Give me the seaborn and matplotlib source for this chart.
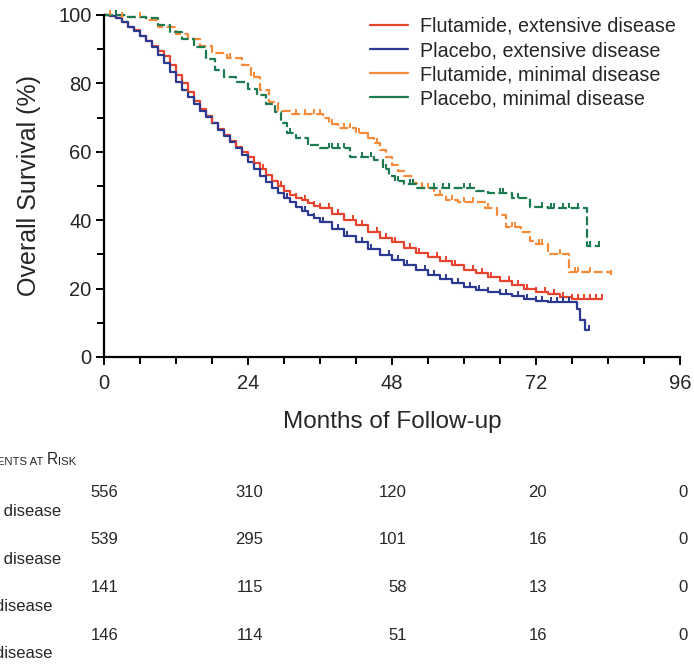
import numpy as np
import pandas as pd
import matplotlib
matplotlib.use("Agg")
import matplotlib.pyplot as plt
import matplotlib.transforms as mtransforms
from matplotlib.lines import Line2D
from matplotlib.ticker import MultipleLocator
import seaborn as sns

# Kaplan-Meier curves (month, survival %)
red_t = [0, 1, 2, 3, 4, 5, 6, 7, 8, 9, 10, 11, 12, 13, 14, 15, 16, 17, 18, 19, 20, 21, 22, 23, 24,
         25, 26, 27, 28, 29, 30, 31, 32, 33, 34, 35, 36, 38, 40, 42, 44, 46, 48,
         50, 52, 54, 56, 58, 60, 62, 64, 66, 68, 70, 72, 74, 76, 78, 83]
red_s = [100, 99.7, 99, 98, 96.5, 95.5, 94, 92.5, 91, 89.5, 88, 85.5, 82.5, 80, 77.5, 75, 72.5, 70.5,
         68.5, 66.8, 65, 63.2, 61.5, 60, 58.5, 56.8, 55, 53.2, 51.5, 50, 48.5, 47.5, 46.5, 45.8, 45,
         44.2, 43.5, 41.8, 40, 38.5, 36.5, 34.8, 33.5, 32, 30.5, 29.2, 28, 26.8, 25.5, 24.5, 23.5, 22.2,
         21, 20, 19, 18.3, 17.5, 17, 17]

blue_t = [0, 1, 2, 3, 4, 5, 6, 7, 8, 9, 10, 11, 12, 13, 14, 15, 16, 17, 18, 19, 20, 21, 22, 23, 24,
          25, 26, 27, 28, 29, 30, 31, 32, 33, 34, 35, 36, 38, 40, 42, 44, 46, 48,
          50, 52, 54, 56, 58, 60, 62, 64, 66, 68, 70, 72, 74, 78.8, 79.4, 80.2, 80.8]
blue_s = [100, 99.7, 99, 98, 96.5, 95.3, 94, 92.3, 90.5, 88.3, 86, 83.3, 80.5, 78.2, 76, 74, 72, 70.3,
          68.5, 66.5, 64.5, 62.8, 61, 59, 57, 55, 53, 51.2, 49.5, 48, 46.5, 45.2, 44, 42.7, 41.5, 40.5,
          39.5, 37.5, 35.5, 33.5, 31.5, 29.8, 28.3, 27, 25.5, 24, 22.8, 21.5, 20.5, 19.5, 19, 18.3,
          17.8, 17, 16.3, 16.1, 14, 10.8, 8, 8]

orange_t = [0, 3, 7, 9, 12, 14, 16, 18, 20.5, 23, 24.5, 26, 27.5, 29, 31, 36.5, 37.5, 39, 42, 44, 45, 46,
            47, 48, 49, 50, 51.5, 53, 55, 57, 59, 63.5, 65.5, 67, 69.5, 71, 72, 74, 77.5, 84.5]
orange_s = [100, 99.5, 98.5, 96.5, 94.5, 93, 91, 89, 87.5, 85.5, 82, 78, 74.5, 72, 71, 70, 68, 67, 65.5,
            64, 62.5, 60.5, 58.5, 56, 54.5, 53, 51, 49.5, 47.5, 46, 45.3, 43.5, 41.5, 38, 36.5, 34, 33,
            30, 25, 24]

green_t = [0, 4, 7, 9, 11, 13, 15, 17, 18.5, 20, 22, 24, 25.5, 27, 28.5, 29.5, 30.5, 32, 34, 36, 41, 45,
           46.5, 47.5, 48.5, 50, 52, 58, 62, 64, 68, 71, 74, 80.5, 82.7]
green_s = [100, 99.5, 99, 97, 95, 93, 90.5, 87, 84, 82, 80.5, 78.5, 76.5, 74, 71.5, 68.5, 65.5, 64, 62,
           61, 58.5, 57.5, 55, 53, 51.5, 50.5, 49.5, 49.3, 48.5, 48, 46.5, 44, 43.5, 32.5, 32.5]

# censored observations (months)
red_cens = [14, 18, 22, 25, 26.5, 28, 29.5, 31, 32, 33.5, 35, 36, 37.5, 39, 40, 41.5, 43, 44, 45.5, 47,
            48.5, 50, 51, 52.5, 54, 55.5, 57, 58.5, 60, 61.5, 63, 64.5, 66, 67.5, 69, 70.5, 72, 73.5,
            75, 76.5, 78, 79, 80, 81, 82, 83]
blue_cens = [20, 24, 27, 29, 30.5, 32, 33.5, 35, 36.5, 38, 39, 40.5, 42, 43, 44.5, 46, 47.5, 49, 50.5,
             52, 53.5, 55, 57, 59, 61, 62.5, 64, 66, 67, 69, 70.5, 72, 73, 74.5, 75.5, 76.5, 77.5, 80.8]
orange_cens = [1, 3, 6, 21, 25, 32, 33.5, 35, 36, 38, 40, 41, 42.5, 44, 45.5, 54, 56, 58, 60, 61.5, 64,
               68, 68.5, 72.5, 73, 76, 78.5, 79, 81, 84.5]
green_cens = [2, 31, 34, 37.5, 38, 39, 40, 43, 44.5, 47, 49, 51, 51.5, 55, 56.5, 57.5, 60, 61, 66, 66.5,
              69, 73, 74.5, 75, 76.5, 77.5, 79, 81, 82.5]

groups = ["Flutamide, extensive disease", "Placebo, extensive disease",
          "Flutamide, minimal disease", "Placebo, minimal disease"]
colors = ["#E8432E", "#2B3990", "#F58A3A", "#1B7A50"]

# patients at risk
risk_months = [0, 24, 48, 72, 96]
risk_labels = ["Flutamide, extensive disease", "Placebo, extensive disease",
               "Flutamide, minimal disease", "Placebo, minimal disease"]
risk_counts = [[556, 310, 120, 20, 0],
               [539, 295, 101, 16, 0],
               [141, 115, 58, 13, 0],
               [146, 114, 51, 16, 0]]

curves = [(red_t, red_s, red_cens), (blue_t, blue_s, blue_cens),
          (orange_t, orange_s, orange_cens), (green_t, green_s, green_cens)]

frames = []
for name, (t, s, _) in zip(groups, curves):
    frames.append(pd.DataFrame({"month": t, "survival": s, "group": name}))
df = pd.concat(frames, ignore_index=True)

sns.set_style("ticks")
plt.rcParams['font.family'] = ['Liberation Sans', 'DejaVu Sans']

W, H = 694, 669
fig = plt.figure(figsize=(W / 100, H / 100), dpi=100)
ax = fig.add_axes([104 / W, 1 - 357 / H, 576 / W, 342 / H])

palette = dict(zip(groups, colors))
dashes = {groups[0]: "", groups[1]: "", groups[2]: (4, 1.6), groups[3]: (4, 1.6)}
sns.lineplot(data=df, x="month", y="survival", hue="group", style="group",
             palette=palette, dashes=dashes, estimator=None, sort=False,
             drawstyle="steps-post", linewidth=1.6, legend=False, ax=ax, clip_on=False)

# censor marks: short upward ticks on the curve
tick_marker = [(0, 0), (0, 1)]
for (t, s, cens), c in zip(curves, colors):
    idx = np.searchsorted(t, cens, side="right") - 1
    cy = np.array(s)[idx]
    ax.plot(cens, cy, ls="none", marker=tick_marker, ms=7, mew=1.4, color=c, clip_on=False)

ax.set_xlim(0, 96)
ax.set_ylim(0, 100)
ax.xaxis.set_major_locator(MultipleLocator(24))
ax.xaxis.set_minor_locator(MultipleLocator(6))
ax.yaxis.set_major_locator(MultipleLocator(20))
ax.yaxis.set_minor_locator(MultipleLocator(10))
ax.tick_params(which="major", length=6, width=1.4, labelsize=14.5, color="black")
ax.tick_params(which="minor", length=5, width=1.4, color="black")
ax.tick_params(axis="x", pad=6)
ax.tick_params(axis="y", pad=3)
sns.despine(ax=ax)
for sp in ["left", "bottom"]:
    ax.spines[sp].set_linewidth(1.6)
    ax.spines[sp].set_color("black")
ax.set_xlabel("Months of Follow-up", fontsize=17.5, labelpad=13)
ax.set_ylabel("Overall Survival (%)", fontsize=18, labelpad=12)

handles = [Line2D([], [], color=c, lw=1.6) for c in colors]
ax.legend(handles, groups, loc="upper right", bbox_to_anchor=(1.0, 1.006), frameon=False,
          fontsize=14.2, handlelength=1.95, handletextpad=0.6, labelspacing=0.26,
          borderaxespad=0, borderpad=0.2)

# patients-at-risk table
def fy(px):
    return 1 - px / H

row_base = [497, 544.5, 592, 639.5]
label_gap = 19
label_right = [61, 61, 52, 52]
pad_px = [14, 15, 15, 11, 8]
blend = mtransforms.blended_transform_factory(ax.transData, fig.transFigure)
for r, (lab, counts) in enumerate(zip(risk_labels, risk_counts)):
    fig.text(label_right[r] / W, fy(row_base[r] + label_gap), lab, ha="right", va="baseline",
             fontsize=12)
    for m, n, p in zip(risk_months, counts, pad_px):
        tr = mtransforms.offset_copy(blend, fig=fig, x=p, y=0, units="dots")
        ax.text(m, fy(row_base[r]), str(n), transform=tr, ha="right", va="baseline",
                fontsize=12, clip_on=False)

# small-caps header, built right to left
pieces = [("ISK", 8.2), ("R", 11.2), ("ATIENTS AT ", 8.2), ("P", 11.2)]
prev = fig.text(76 / W, fy(465), pieces[0][0], ha="right", va="baseline", fontsize=pieces[0][1])
for txt, size in pieces[1:]:
    prev = ax.annotate(txt, xy=(0, 0), xycoords=prev, ha="right", va="bottom",
                       fontsize=size, annotation_clip=False)

fig.savefig("out.png", dpi=100)
